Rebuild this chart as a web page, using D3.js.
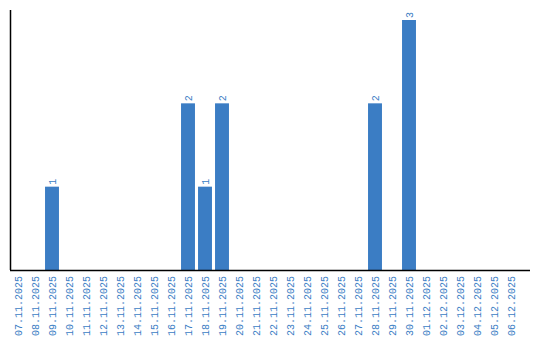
<!DOCTYPE html>
<html>
<head>
<meta charset="utf-8" />
<title>Daily counts</title>
<style>
body { margin: 0; background: #fff; }
text { font-family: "Liberation Mono", monospace; font-size: 10px; fill: #3b7dc4; }
</style>
</head>
<body>
<div id="chart"></div>
<script src="https://d3js.org/d3.v7.min.js"></script>
<script>
(function(d3) {
	'use strict';

	var dates = ['07.11.2025', '08.11.2025', '09.11.2025', '10.11.2025', '11.11.2025',
		'12.11.2025', '13.11.2025', '14.11.2025', '15.11.2025', '16.11.2025',
		'17.11.2025', '18.11.2025', '19.11.2025', '20.11.2025', '21.11.2025',
		'22.11.2025', '23.11.2025', '24.11.2025', '25.11.2025', '26.11.2025',
		'27.11.2025', '28.11.2025', '29.11.2025', '30.11.2025', '01.12.2025',
		'02.12.2025', '03.12.2025', '04.12.2025', '05.12.2025', '06.12.2025'];
	var counts = [0, 0, 1, 0, 0, 0, 0, 0, 0, 0,
		2, 1, 2, 0, 0, 0, 0, 0, 0, 0,
		0, 2, 0, 3, 0, 0, 0, 0, 0, 0];

	var width = 540;
	var height = 340;
	var left = 10, right = 530, top = 10, bottom = 270;
	var barColor = '#3b7dc4';

	var svg = d3.select('#chart').append('svg')
		.attr('width', width).attr('height', height);

	var x = d3.scaleBand().domain(dates)
		.range([left - 0.5, left - 0.5 + 17 * 30])
		.paddingInner(0.18).paddingOuter(0.09);

	var y = d3.scaleLinear().domain([0, d3.max(counts) * 260 / 250])
		.range([bottom, top]);

	var data = dates.map(function(d, i) { return { date: d, count: counts[i] }; });
	var nonZero = data.filter(function(d) { return d.count > 0; });

	svg.selectAll('rect.bar').data(nonZero).enter().append('rect')
		.attr('class', 'bar')
		.attr('x', function(d) { return x(d.date); })
		.attr('width', x.bandwidth())
		.attr('y', function(d) { return y(d.count); })
		.attr('height', function(d) { return bottom - y(d.count); })
		.attr('fill', barColor);

	// value labels, rotated
	svg.selectAll('text.val').data(nonZero).enter().append('text')
		.attr('class', 'val')
		.attr('transform', function(d) {
			return 'translate(' + (x(d.date) + x.bandwidth() / 2) + ',' + (y(d.count) - 2) + ') rotate(-90)';
		})
		.attr('dy', '0.35em')
		.attr('text-anchor', 'start')
		.text(function(d) { return d.count; });

	// x axis labels
	svg.selectAll('text.lbl').data(dates).enter().append('text')
		.attr('class', 'lbl')
		.attr('transform', function(d) {
			return 'translate(' + (x(d) + x.bandwidth() / 2) + ',' + (bottom + 6) + ') rotate(-90)';
		})
		.attr('dy', '0.35em')
		.attr('text-anchor', 'end')
		.text(function(d) { return d; });

	// axis lines
	svg.append('line')
		.attr('x1', left + 0.5).attr('x2', left + 0.5)
		.attr('y1', y.range()[1]).attr('y2', bottom)
		.attr('stroke', '#000').attr('stroke-width', 1.5);
	svg.append('line')
		.attr('x1', left).attr('x2', right)
		.attr('y1', bottom + 0.5).attr('y2', bottom + 0.5)
		.attr('stroke', '#000').attr('stroke-width', 1.5);

})(window.d3);
</script>
</body>
</html>
